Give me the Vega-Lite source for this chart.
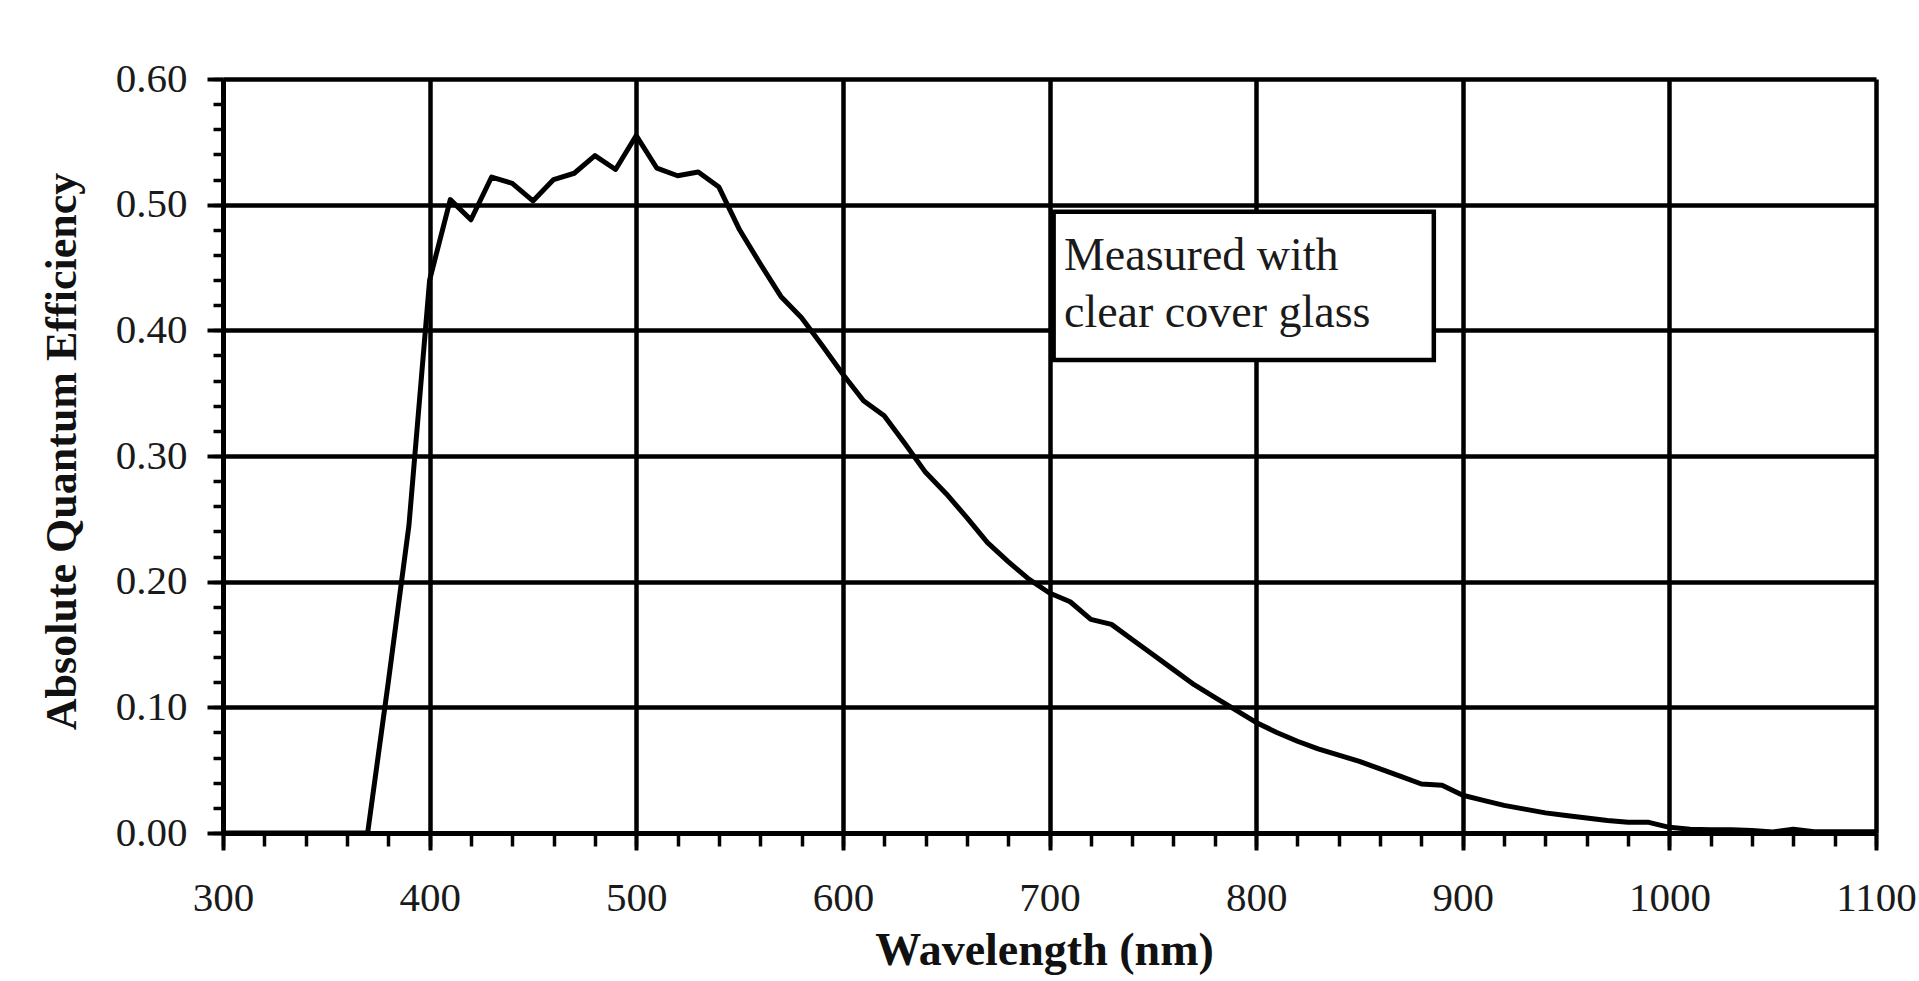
{
  "$schema": "https://vega.github.io/schema/vega-lite/v6.json",
  "width": 1653,
  "height": 754,
  "autosize": {"type": "none"},
  "padding": {"left": 223, "top": 79, "right": 43, "bottom": 148},
  "background": "white",
  "config": {"view": {"stroke": null}, "font": "Liberation Serif"},
  "datasets": {
    "qe": [
      {"wavelength": 300, "qe": 0}, {"wavelength": 310, "qe": 0}, {"wavelength": 320, "qe": 0},
      {"wavelength": 330, "qe": 0}, {"wavelength": 340, "qe": 0}, {"wavelength": 350, "qe": 0},
      {"wavelength": 360, "qe": 0}, {"wavelength": 370, "qe": 0}, {"wavelength": 380, "qe": 0.12},
      {"wavelength": 390, "qe": 0.245}, {"wavelength": 400, "qe": 0.44}, {"wavelength": 410, "qe": 0.504},
      {"wavelength": 420, "qe": 0.488}, {"wavelength": 430, "qe": 0.522}, {"wavelength": 440, "qe": 0.517},
      {"wavelength": 450, "qe": 0.503}, {"wavelength": 460, "qe": 0.52}, {"wavelength": 470, "qe": 0.525},
      {"wavelength": 480, "qe": 0.539}, {"wavelength": 490, "qe": 0.528}, {"wavelength": 500, "qe": 0.555},
      {"wavelength": 510, "qe": 0.529}, {"wavelength": 520, "qe": 0.523}, {"wavelength": 530, "qe": 0.526},
      {"wavelength": 540, "qe": 0.514}, {"wavelength": 550, "qe": 0.48}, {"wavelength": 560, "qe": 0.453},
      {"wavelength": 570, "qe": 0.427}, {"wavelength": 580, "qe": 0.41}, {"wavelength": 590, "qe": 0.388},
      {"wavelength": 600, "qe": 0.365}, {"wavelength": 610, "qe": 0.344}, {"wavelength": 620, "qe": 0.332},
      {"wavelength": 630, "qe": 0.31}, {"wavelength": 640, "qe": 0.287}, {"wavelength": 650, "qe": 0.27},
      {"wavelength": 660, "qe": 0.251}, {"wavelength": 670, "qe": 0.231}, {"wavelength": 680, "qe": 0.216},
      {"wavelength": 690, "qe": 0.202}, {"wavelength": 700, "qe": 0.191}, {"wavelength": 710, "qe": 0.184},
      {"wavelength": 720, "qe": 0.17}, {"wavelength": 730, "qe": 0.166}, {"wavelength": 740, "qe": 0.154},
      {"wavelength": 750, "qe": 0.142}, {"wavelength": 760, "qe": 0.13}, {"wavelength": 770, "qe": 0.118},
      {"wavelength": 780, "qe": 0.108}, {"wavelength": 790, "qe": 0.098}, {"wavelength": 800, "qe": 0.088},
      {"wavelength": 810, "qe": 0.08}, {"wavelength": 820, "qe": 0.073}, {"wavelength": 830, "qe": 0.067},
      {"wavelength": 840, "qe": 0.062}, {"wavelength": 850, "qe": 0.057}, {"wavelength": 860, "qe": 0.051},
      {"wavelength": 870, "qe": 0.045}, {"wavelength": 880, "qe": 0.039}, {"wavelength": 890, "qe": 0.038},
      {"wavelength": 900, "qe": 0.03}, {"wavelength": 910, "qe": 0.026}, {"wavelength": 920, "qe": 0.022},
      {"wavelength": 930, "qe": 0.019}, {"wavelength": 940, "qe": 0.016}, {"wavelength": 950, "qe": 0.014},
      {"wavelength": 960, "qe": 0.012}, {"wavelength": 970, "qe": 0.01}, {"wavelength": 980, "qe": 0.0085},
      {"wavelength": 990, "qe": 0.0085}, {"wavelength": 1000, "qe": 0.0045}, {"wavelength": 1010, "qe": 0.003},
      {"wavelength": 1020, "qe": 0.0026}, {"wavelength": 1030, "qe": 0.0026}, {"wavelength": 1040, "qe": 0.002},
      {"wavelength": 1050, "qe": 0.0008}, {"wavelength": 1060, "qe": 0.003}, {"wavelength": 1070, "qe": 0.001},
      {"wavelength": 1080, "qe": 0.001}, {"wavelength": 1090, "qe": 0.001}, {"wavelength": 1100, "qe": 0.001}
    ],
    "note": [{"line1": "Measured with", "line2": "clear cover glass"}]
  },
  "layer": [
    {
      "data": {"name": "qe"},
      "mark": {"type": "line", "color": "black", "strokeWidth": 5, "strokeJoin": "round"},
      "encoding": {
        "x": {
          "field": "wavelength", "type": "quantitative",
          "scale": {"domain": [300, 1100], "nice": false, "zero": false},
          "axis": {
            "orient": "bottom",
            "values": [300, 400, 500, 600, 700, 800, 900, 1000, 1100],
            "format": "d",
            "grid": true, "gridColor": "black", "gridWidth": 4.5, "gridOpacity": 1,
            "domain": true, "domainColor": "black", "domainWidth": 5,
            "ticks": true, "tickSize": 17, "tickWidth": 4, "tickColor": "black",
            "labelFont": "Liberation Serif", "labelFontSize": 41, "labelColor": "#1a1a1a",
            "labelPadding": 28, "labelFlush": false, "labelOverlap": false,
            "title": "Wavelength (nm)", "titleFont": "Liberation Serif", "titleFontSize": 46,
            "titleFontWeight": "bold", "titleColor": "#111111",
            "titleX": 821, "titleY": 131, "titleBaseline": "alphabetic", "titleAlign": "center"
          }
        },
        "y": {
          "field": "qe", "type": "quantitative",
          "scale": {"domain": [0, 0.6], "nice": false},
          "axis": {
            "orient": "left",
            "values": [0, 0.1, 0.2, 0.3, 0.4, 0.5, 0.6],
            "format": ".2f",
            "grid": true, "gridColor": "black", "gridWidth": 4.5, "gridOpacity": 1,
            "domain": true, "domainColor": "black", "domainWidth": 5,
            "ticks": true, "tickSize": 16, "tickWidth": 4, "tickColor": "black",
            "labelFont": "Liberation Serif", "labelFontSize": 41, "labelColor": "#1a1a1a",
            "labelPadding": 20, "labelFlush": false, "labelOverlap": false,
            "title": "Absolute Quantum Efficiency", "titleFont": "Liberation Serif", "titleFontSize": 44,
            "titleFontWeight": "bold", "titleColor": "#111111", "titleAngle": 270,
            "titleX": -148, "titleY": 372, "titleBaseline": "alphabetic", "titleAlign": "center"
          }
        }
      }
    },
    {
      "data": {"name": "note"},
      "mark": {"type": "rect", "fill": "white", "stroke": "black", "strokeWidth": 4.5},
      "encoding": {
        "x": {
          "datum": 702, "type": "quantitative",
          "axis": {
            "orient": "bottom", "title": null,
            "values": [300, 320, 340, 360, 380, 400, 420, 440, 460, 480, 500, 520, 540, 560, 580, 600, 620, 640, 660, 680, 700, 720, 740, 760, 780, 800, 820, 840, 860, 880, 900, 920, 940, 960, 980, 1000, 1020, 1040, 1060, 1080, 1100],
            "labels": false, "grid": false, "domain": false,
            "ticks": true, "tickSize": 13, "tickWidth": 3.5, "tickColor": "black"
          }
        },
        "x2": {"datum": 886},
        "y": {
          "datum": 0.4944, "type": "quantitative",
          "axis": {
            "orient": "left", "title": null,
            "values": [0, 0.02, 0.04, 0.06, 0.08, 0.1, 0.12, 0.14, 0.16, 0.18, 0.2, 0.22, 0.24, 0.26, 0.28, 0.3, 0.32, 0.34, 0.36, 0.38, 0.4, 0.42, 0.44, 0.46, 0.48, 0.5, 0.52, 0.54, 0.56, 0.58, 0.6],
            "labels": false, "grid": false, "domain": false,
            "ticks": true, "tickSize": 10, "tickWidth": 3.5, "tickColor": "black"
          }
        },
        "y2": {"datum": 0.3764}
      }
    },
    {
      "data": {"name": "note"},
      "mark": {"type": "text", "align": "left", "baseline": "alphabetic", "font": "Liberation Serif", "fontSize": 46, "lineHeight": 57, "color": "#1a1a1a"},
      "encoding": {
        "text": {"value": ["Measured with", "clear cover glass"]},
        "x": {"datum": 707, "type": "quantitative", "axis": null},
        "y": {"datum": 0.448, "type": "quantitative", "axis": null}
      }
    }
  ],
  "resolve": {"axis": {"x": "independent", "y": "independent"}}
}
